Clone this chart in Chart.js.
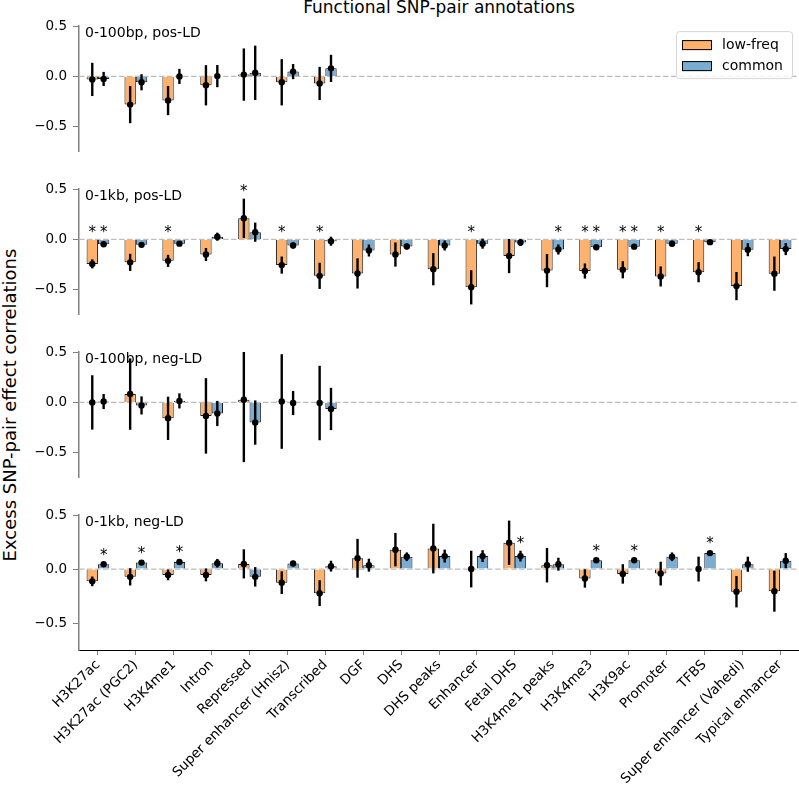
<!DOCTYPE html>
<html>
<head>
<meta charset="utf-8">
<script src="https://cdn.jsdelivr.net/npm/chart.js@4.4.0/dist/chart.umd.min.js"></script>
<style>
  body { margin: 0; background: #fff; }
  #fig { position: relative; width: 799px; height: 795px; font-family: "DejaVu Sans", sans-serif; overflow: hidden; }
  canvas.panel { position: absolute; left: 0; }
  #title { position: absolute; top: -3px; left: 79px; width: 720px; text-align: center; font-size: 17px; line-height: 20px; }
  #ylabel { position: absolute; left: 9px; top: 405px; transform: translate(-50%, -50%) rotate(-90deg); white-space: nowrap; font-size: 18px; }
</style>
</head>
<body>
<div id="fig">
  <div id="title">Functional SNP-pair annotations</div>
  <div id="ylabel">Excess SNP-pair effect correlations</div>
  <canvas class="panel" id="p1" width="799" height="154" style="top:12px"></canvas>
  <canvas class="panel" id="p2" width="799" height="154" style="top:175px"></canvas>
  <canvas class="panel" id="p3" width="799" height="154" style="top:338px"></canvas>
  <canvas class="panel" id="p4" width="799" height="294" style="top:501px"></canvas>
</div>
<script>
const categories = ["H3K27ac", "H3K27ac (PGC2)", "H3K4me1", "Intron", "Repressed",
  "Super enhancer (Hnisz)", "Transcribed", "DGF", "DHS", "DHS peaks", "Enhancer",
  "Fetal DHS", "H3K4me1 peaks", "H3K4me3", "H3K9ac", "Promoter", "TFBS",
  "Super enhancer (Vahedi)", "Typical enhancer"];
const yTicks = [-0.5, 0, 0.5];

// 0-100bp, pos-LD (first 7 annotations only)
const pos100Low = [-0.03, -0.28, -0.24, -0.088, 0.018, -0.058, -0.07];
const pos100LowErr = [0.165, 0.185, 0.145, 0.2, 0.26, 0.23, 0.165];
const pos100Common = [-0.025, -0.058, 0.0, 0.003, 0.036, 0.048, 0.08];
const pos100CommonErr = [0.07, 0.08, 0.075, 0.11, 0.27, 0.075, 0.135];

// 0-1kb, pos-LD
const pos1kLow = [-0.243, -0.228, -0.213, -0.15, 0.21, -0.255, -0.362, -0.338, -0.15, -0.296,
  -0.476, -0.165, -0.31, -0.314, -0.302, -0.368, -0.326, -0.464, -0.34];
const pos1kLowErr = [0.045, 0.085, 0.06, 0.065, 0.195, 0.085, 0.13, 0.15, 0.12, 0.16,
  0.17, 0.17, 0.165, 0.075, 0.085, 0.1, 0.1, 0.14, 0.17];
const pos1kLowStar = [1, 0, 1, 0, 1, 1, 1, 0, 0, 0, 1, 0, 0, 1, 1, 1, 1, 0, 0];
const pos1kCommon = [-0.048, -0.054, -0.042, 0.027, 0.072, -0.06, -0.018, -0.11, -0.07, -0.06,
  -0.042, -0.03, -0.1, -0.078, -0.072, -0.042, -0.027, -0.102, -0.096];
const pos1kCommonErr = [0.025, 0.02, 0.02, 0.04, 0.095, 0.03, 0.045, 0.06, 0.03, 0.05,
  0.05, 0.035, 0.05, 0.02, 0.02, 0.03, 0.02, 0.065, 0.06];
const pos1kCommonStar = [1, 0, 0, 0, 0, 0, 0, 0, 0, 0, 0, 0, 1, 1, 1, 0, 0, 0, 0];

// 0-100bp, neg-LD (first 7 annotations only)
const neg100Low = [0.0, 0.083, -0.158, -0.134, 0.027, 0.009, -0.006];
const neg100LowErr = [0.27, 0.355, 0.215, 0.375, 0.62, 0.47, 0.37];
const neg100Common = [0.009, -0.03, 0.015, -0.11, -0.2, -0.006, -0.065];
const neg100CommonErr = [0.075, 0.09, 0.075, 0.125, 0.22, 0.12, 0.21];

// 0-1kb, neg-LD
const neg1kLow = [-0.114, -0.072, -0.054, -0.054, 0.048, -0.126, -0.223, 0.1, 0.18, 0.19,
  0.0, 0.244, 0.036, -0.087, -0.045, -0.042, 0.0, -0.21, -0.205];
const neg1kLowErr = [0.045, 0.08, 0.05, 0.06, 0.135, 0.105, 0.12, 0.18, 0.155, 0.23,
  0.17, 0.205, 0.16, 0.085, 0.09, 0.11, 0.115, 0.145, 0.19];
const neg1kCommon = [0.045, 0.06, 0.066, 0.054, -0.072, 0.051, 0.027, 0.036, 0.114, 0.12,
  0.12, 0.12, 0.045, 0.081, 0.081, 0.114, 0.148, 0.045, 0.078];
const neg1kCommonErr = [0.015, 0.012, 0.015, 0.04, 0.09, 0.025, 0.05, 0.06, 0.04, 0.06,
  0.055, 0.05, 0.06, 0.015, 0.015, 0.04, 0.02, 0.07, 0.07];
const neg1kCommonStar = [1, 1, 1, 0, 0, 0, 0, 0, 0, 0, 0, 1, 0, 1, 1, 0, 1, 0, 0];

const lowColor = "#ffb26e";
const commonColor = "#79add2";
const FONT = "DejaVu Sans";

function pad(arr) {
  const out = arr.slice();
  while (out.length < categories.length) out.push(null);
  return out;
}

// zero line, error bars, dots, asterisks, panel label, legend
const extras = {
  id: "extras",
  beforeDatasetsDraw(chart) {
    const ctx = chart.ctx;
    const y0 = chart.scales.y.getPixelForValue(0);
    ctx.save();
    ctx.strokeStyle = "#bdbdbd";
    ctx.lineWidth = 1.3;
    ctx.setLineDash([5.5, 2.5]);
    ctx.beginPath();
    ctx.moveTo(chart.chartArea.left, y0);
    ctx.lineTo(chart.chartArea.right, y0);
    ctx.stroke();
    ctx.restore();
  },
  afterDatasetsDraw(chart) {
    const ctx = chart.ctx;
    const ys = chart.scales.y;
    const area = chart.chartArea;
    ctx.save();
    ctx.beginPath();
    ctx.rect(area.left, area.top, area.right - area.left, area.bottom - area.top);
    ctx.clip();
    chart.data.datasets.forEach((ds, i) => {
      chart.getDatasetMeta(i).data.forEach((bar, j) => {
        const v = ds.data[j];
        if (v === null || v === undefined) return;
        const e = ds.errors[j];
        ctx.strokeStyle = "#000";
        ctx.lineWidth = 2.4;
        ctx.beginPath();
        ctx.moveTo(bar.x, ys.getPixelForValue(v + e));
        ctx.lineTo(bar.x, ys.getPixelForValue(v - e));
        ctx.stroke();
        ctx.fillStyle = "#000";
        ctx.beginPath();
        ctx.arc(bar.x, ys.getPixelForValue(v), 3.2, 0, Math.PI * 2);
        ctx.fill();
      });
    });
    ctx.restore();

    ctx.save();
    ctx.fillStyle = "#000";
    ctx.font = "15px '" + FONT + "'";
    ctx.textAlign = "center";
    ctx.textBaseline = "middle";
    chart.data.datasets.forEach((ds, i) => {
      if (!ds.stars) return;
      chart.getDatasetMeta(i).data.forEach((bar, j) => {
        if (!ds.stars[j]) return;
        const top = Math.max(ds.data[j] + ds.errors[j], 0) + 0.09;
        ctx.fillText("*", bar.x, ys.getPixelForValue(top) + 3);
      });
    });
    ctx.restore();
  },
  afterDraw(chart, args, opts) {
    const ctx = chart.ctx;
    const area = chart.chartArea;
    ctx.save();
    ctx.fillStyle = "#000";
    ctx.font = "14px '" + FONT + "'";
    ctx.textAlign = "left";
    ctx.textBaseline = "middle";
    ctx.fillText(opts.label, area.left + 6, area.top + 7);
    if (opts.legend) {
      const bx = area.right - 123, by = area.top + 5, bw = 116, bh = 47;
      ctx.fillStyle = "rgba(255,255,255,0.8)";
      ctx.strokeStyle = "#d6d6d6";
      ctx.lineWidth = 1;
      ctx.beginPath();
      ctx.roundRect(bx + 0.5, by + 0.5, bw, bh, 3);
      ctx.fill();
      ctx.stroke();
      chart.data.datasets.forEach((ds, i) => {
        const cy = by + 14 + i * 21;
        ctx.fillStyle = ds.backgroundColor;
        ctx.fillRect(bx + 6, cy - 5, 30, 10);
        ctx.strokeStyle = "#000";
        ctx.strokeRect(bx + 6.5, cy - 4.5, 29, 9);
        ctx.fillStyle = "#000";
        ctx.fillText(ds.label, bx + 46, cy);
      });
    }
    ctx.restore();
  }
};

function makePanel(id, low, lowErr, lowStar, common, commonErr, commonStar, label, isBottom, legend) {
  new Chart(document.getElementById(id), {
    type: "bar",
    data: {
      labels: categories,
      datasets: [
        { label: "low-freq", data: pad(low), errors: pad(lowErr), stars: lowStar,
          backgroundColor: lowColor, borderColor: "#1a1a1a", borderWidth: 1 },
        { label: "common", data: pad(common), errors: pad(commonErr), stars: commonStar,
          backgroundColor: commonColor, borderColor: "#1a1a1a", borderWidth: 1 }
      ]
    },
    plugins: [extras],
    options: {
      responsive: false,
      animation: false,
      devicePixelRatio: 1,
      layout: { padding: { top: 10, right: 0, left: 0, bottom: isBottom ? 0 : 5 } },
      datasets: { bar: { categoryPercentage: 0.6, barPercentage: 1.0 } },
      plugins: {
        legend: { display: false },
        tooltip: { enabled: false },
        extras: { label: label, legend: legend }
      },
      scales: {
        x: {
          display: isBottom,
          offset: true,
          grid: { display: true, drawOnChartArea: false, drawTicks: true, tickLength: 5, color: "#808080", offset: false },
          border: { display: true, color: "#000", width: 1 },
          ticks: {
            autoSkip: false, maxRotation: 45, minRotation: 45, padding: 2,
            color: "#000", font: { family: FONT, size: 13.5 }
          },
          afterFit(scale) { if (isBottom) scale.height = 145; }
        },
        y: {
          min: -0.75,
          max: 0.5,
          grid: { display: true, drawOnChartArea: false, drawTicks: true, tickLength: 6, color: "#808080" },
          border: { display: true, color: "#808080", width: 1.5 },
          afterBuildTicks(scale) { scale.ticks = yTicks.map(v => ({ value: v })); },
          ticks: {
            padding: 6,
            color: "#000",
            font: { family: FONT, size: 13.5 },
            callback: v => (v === 0 ? "0.0" : v.toFixed(1).replace("-", "\u2212"))
          },
          afterFit(scale) { scale.width = 79; }
        }
      }
    }
  });
}

makePanel("p1", pos100Low, pos100LowErr, null, pos100Common, pos100CommonErr, null, "0-100bp, pos-LD", false, true);
makePanel("p2", pos1kLow, pos1kLowErr, pos1kLowStar, pos1kCommon, pos1kCommonErr, pos1kCommonStar, "0-1kb, pos-LD", false, false);
makePanel("p3", neg100Low, neg100LowErr, null, neg100Common, neg100CommonErr, null, "0-100bp, neg-LD", false, false);
makePanel("p4", neg1kLow, neg1kLowErr, null, neg1kCommon, neg1kCommonErr, neg1kCommonStar, "0-1kb, neg-LD", true, false);
</script>
</body>
</html>
